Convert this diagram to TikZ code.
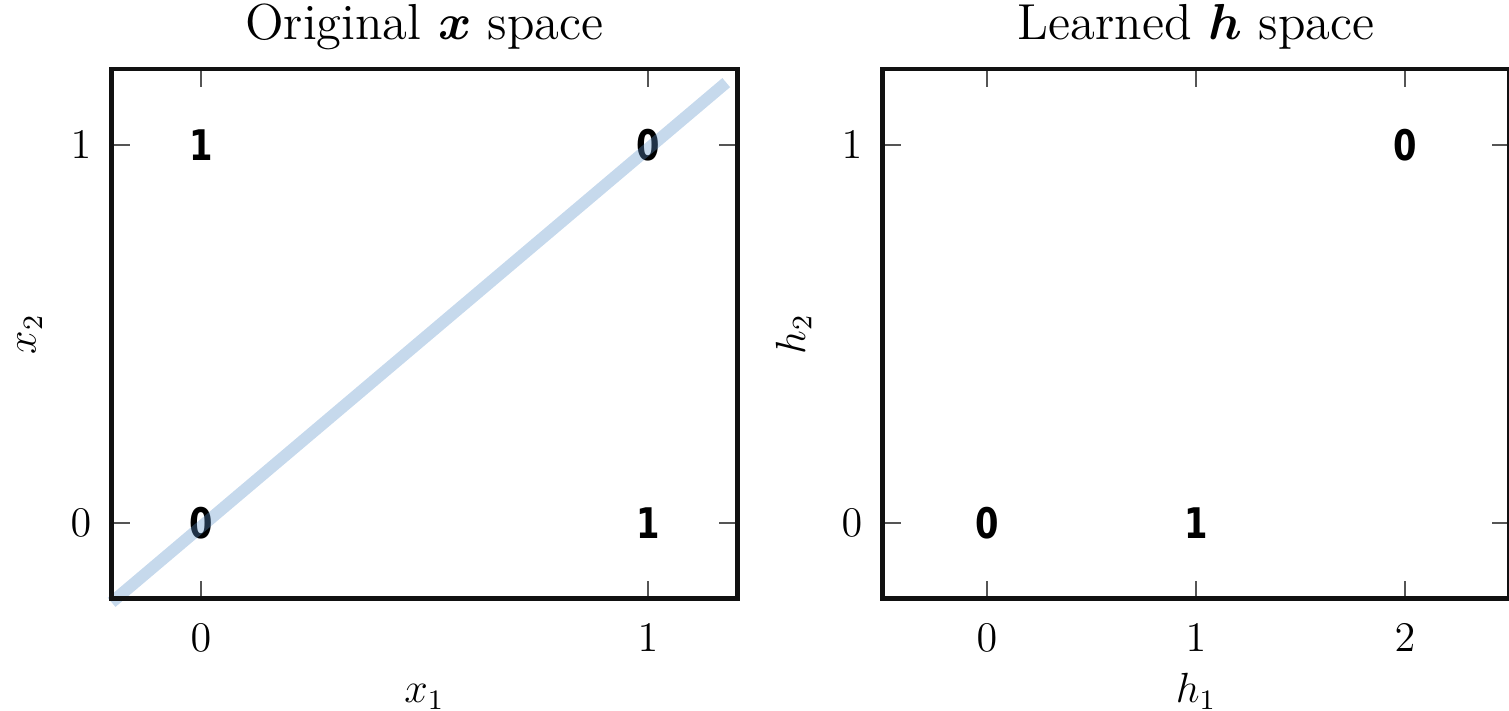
\documentclass[tikz,border=0pt]{standalone}
\usepackage{amsmath,amssymb}
\usepackage{fontspec}
\newfontfamily\markfont{DejaVu Sans}[FakeStretch=0.8]
\usetikzlibrary{positioning}
\definecolor{Frame}{HTML}{111111}
\definecolor{Tick}{HTML}{555555}
\definecolor{Sep}{RGB}{92,146,201}
\tikzset{
  frame/.style={draw=Frame,line width=1.2pt},
  tick/.style={draw=Tick,line width=0.8pt},
  ticklbl/.style={font=\large,inner sep=1pt},
  pt/.style={font=\markfont\bfseries\large,inner sep=0pt},
  ttl/.style={font=\Large,inner sep=2pt},
  axlbl/.style={font=\large,inner sep=1pt},
  sep/.style={draw=Sep,line width=3.4pt,opacity=0.35},
}
\begin{document}
\begin{tikzpicture}[x=1cm,y=1cm]
\useasboundingbox (0,0) rectangle (15.09,7.11);
% left panel: original x space
\begin{scope}[shift={(2.01,1.88)},x=4.47cm,y=3.78cm]
\coordinate (L-sw) at (-0.2,-0.2); \coordinate (L-ne) at (1.2,1.2);
\node[pt] (x01) at (0,1) {1};
\node[pt] (x11) at (1,1) {0};
\node[pt] (x00) at (0,0) {0};
\node[pt] (x10) at (1,0) {1};
\coordinate (sepA) at (-0.2,-0.21); \coordinate (sepB) at (1.175,1.165);
\draw[sep] (sepA) -- (sepB);
\foreach \v in {0,1} {
  \draw[tick] (\v,-0.2) -- ++(0,0.18cm) (\v,1.2) -- ++(0,-0.18cm);
  \draw[tick] (-0.2,\v) -- ++(0.18cm,0) (1.2,\v) -- ++(-0.18cm,0);
  \node[ticklbl,below=0.22cm] (xt\v) at (\v,-0.2) {$\v$};
  \node[ticklbl,left=0.16cm] (yt\v) at (-0.2,\v) {$\v$};
}
\draw[frame] (L-sw) rectangle (L-ne);
\node[ttl,above=0.12cm] (ttlx) at (0.5,1.2) {Original $\boldsymbol{x}$ space};
\node[axlbl,anchor=base] (lblx1) at (0.5,-0.476) {$x_1$};
\node[axlbl,rotate=90] (lblx2) at (-0.383,0.5) {$x_2$};
\end{scope}
% right panel: learned h space
\begin{scope}[shift={(9.87,1.88)},x=2.09cm,y=3.78cm]
\coordinate (R-sw) at (-0.5,-0.2); \coordinate (R-ne) at (2.5,1.2);
\node[pt] (h00) at (0,0) {0};
\node[pt] (h10) at (1,0) {1};
\node[pt] (h21) at (2,1) {0};
\foreach \v in {0,1,2} {
  \draw[tick] (\v,-0.2) -- ++(0,0.18cm) (\v,1.2) -- ++(0,-0.18cm);
  \node[ticklbl,below=0.22cm] (ht\v) at (\v,-0.2) {$\v$};
}
\foreach \v in {0,1} {
  \draw[tick] (-0.5,\v) -- ++(0.18cm,0) (2.5,\v) -- ++(-0.18cm,0);
  \node[ticklbl,left=0.16cm] (hyt\v) at (-0.5,\v) {$\v$};
}
\draw[frame] (R-sw) rectangle (R-ne);
\node[ttl,above=0.12cm] (ttlh) at (1,1.2) {Learned $\boldsymbol{h}$ space};
\node[axlbl,anchor=base] (lblh1) at (1,-0.476) {$h_1$};
\node[axlbl,rotate=90] (lblh2) at (-0.925,0.5) {$h_2$};
\end{scope}
\end{tikzpicture}
\end{document}
